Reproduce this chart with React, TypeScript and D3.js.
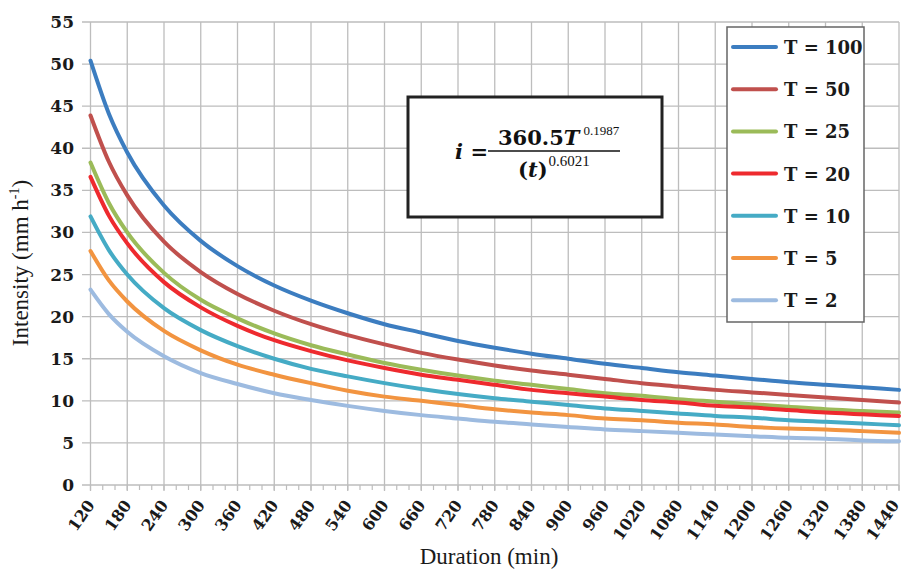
import React from 'react';
import * as d3 from 'd3';

const durations = [120, 150, 180, 240, 300, 360, 420, 480, 540, 600, 660, 720, 780, 840, 900, 960, 1020, 1080, 1140, 1200, 1260, 1320, 1380, 1440];

// intensity (mm/h) per return period
const t100 = [50.4, 44.1, 39.5, 33.2, 29.0, 26.0, 23.7, 21.9, 20.4, 19.1, 18.1, 17.1, 16.3, 15.6, 15.0, 14.4, 13.9, 13.4, 13.0, 12.6, 12.2, 11.9, 11.6, 11.3];
const t50 = [43.9, 38.4, 34.4, 28.9, 25.3, 22.7, 20.7, 19.1, 17.8, 16.7, 15.7, 14.9, 14.2, 13.6, 13.1, 12.6, 12.1, 11.7, 11.3, 11.0, 10.7, 10.4, 10.1, 9.8];
const t25 = [38.3, 33.5, 30.0, 25.2, 22.0, 19.8, 18.0, 16.6, 15.5, 14.5, 13.7, 13.0, 12.4, 11.9, 11.4, 10.9, 10.6, 10.2, 9.9, 9.6, 9.3, 9.0, 8.8, 8.6];
const t20 = [36.6, 32.0, 28.7, 24.1, 21.1, 18.9, 17.2, 15.9, 14.8, 13.9, 13.1, 12.5, 11.9, 11.3, 10.9, 10.5, 10.1, 9.8, 9.4, 9.2, 8.9, 8.6, 8.4, 8.2];
const t10 = [31.9, 27.9, 25.0, 21.0, 18.4, 16.5, 15.0, 13.8, 12.9, 12.1, 11.4, 10.8, 10.3, 9.9, 9.5, 9.1, 8.8, 8.5, 8.2, 8.0, 7.7, 7.5, 7.3, 7.1];
const t5 = [27.8, 24.3, 21.8, 18.3, 16.0, 14.3, 13.1, 12.1, 11.2, 10.5, 10.0, 9.5, 9.0, 8.6, 8.3, 7.9, 7.7, 7.4, 7.2, 6.9, 6.7, 6.6, 6.4, 6.2];
const t2 = [23.2, 20.3, 18.2, 15.3, 13.3, 12.0, 10.9, 10.1, 9.4, 8.8, 8.3, 7.9, 7.5, 7.2, 6.9, 6.6, 6.4, 6.2, 6.0, 5.8, 5.6, 5.5, 5.3, 5.2];

const legendLabels = ['T = 100', 'T = 50', 'T = 25', 'T = 20', 'T = 10', 'T = 5', 'T = 2'];
const seriesValues = [t100, t50, t25, t20, t10, t5, t2];
const seriesColors = ['#3c7dc0', '#c0504d', '#9bbb59', '#ee2a2e', '#45abc5', '#f29440', '#9dbbe0'];

const xTicks = d3.range(120, 1441, 60);
const xMinor = d3.range(120, 1441, 20);
const yTicks = d3.range(0, 56, 5);

const W = 902;
const H = 570;
const boldFont = '"DejaVu Serif", serif';
const plainFont = '"Liberation Serif", "Times New Roman", serif';

export default function App() {
  const x = d3.scaleLinear().domain([120, 1440]).range([90.5, 899]);
  const y = d3.scaleLinear().domain([0, 55]).range([485, 22]);

  const line = d3.line<[number, number]>()
    .x(d => x(d[0]))
    .y(d => y(d[1]))
    .curve(d3.curveMonotoneX);

  const gridColor = '#bdbdbd';

  return (
    <div style={{ position: 'absolute', left: 0, top: 0 }}>
      <svg width={W} height={H} style={{ display: 'block', background: '#fff' }}>
        {/* horizontal grid */}
        {yTicks.map(v => (
          <line key={'h' + v} x1={82} x2={899} y1={y(v)} y2={y(v)} stroke={gridColor} strokeWidth={1.3} />
        ))}
        {/* vertical grid */}
        {xTicks.map(v => (
          <line key={'v' + v} x1={x(v)} x2={x(v)} y1={y(55)} y2={491} stroke={gridColor} strokeWidth={1.3} />
        ))}
        {xMinor.map(v => (
          <line key={'m' + v} x1={x(v)} x2={x(v)} y1={485} y2={490} stroke={gridColor} strokeWidth={1.2} />
        ))}

        {/* y tick labels */}
        {yTicks.map(v => (
          <text key={'yl' + v} x={74} y={y(v) + 6} textAnchor="end" fontFamily={boldFont} fontWeight="bold" fontSize={17} fill="#1a1a1a">
            {v}
          </text>
        ))}

        {/* x tick labels */}
        {xTicks.map(v => (
          <text key={'xl' + v} transform={`translate(${Math.min(x(v) + 5, 900)},${505}) rotate(-55)`} textAnchor="end" fontFamily={boldFont} fontWeight="bold" fontSize={16} fill="#1a1a1a">
            {v}
          </text>
        ))}

        {/* curves */}
        {seriesValues.map((vals, i) => (
          <path key={'s' + i} d={line(durations.map((d, j) => [d, vals[j]] as [number, number])) || ''} fill="none" stroke={seriesColors[i]} strokeWidth={4} strokeLinejoin="round" strokeLinecap="round" />
        ))}

        {/* formula box */}
        <rect x={408} y={97} width={254} height={120} fill="#fff" stroke="#222" strokeWidth={3} />
        <text x={488} y={159} textAnchor="end" fontFamily={boldFont} fontWeight="bold" fontSize={21} fill="#111">
          <tspan fontStyle="italic">i</tspan> =
        </text>
        <text x={498} y={145} fontFamily={boldFont} fontWeight="bold" fontSize={21} fill="#111">
          360.5<tspan fontStyle="italic">T</tspan>
          <tspan fontFamily={plainFont} fontWeight="normal" fontSize={13} dy={-10} dx={4}>0.1987</tspan>
        </text>
        <line x1={488} x2={620} y1={151} y2={151} stroke="#111" strokeWidth={1.5} />
        <text x={518} y={177} fontFamily={boldFont} fontWeight="bold" fontSize={21} fill="#111">
          (<tspan fontStyle="italic">t</tspan>)
          <tspan fontFamily={plainFont} fontWeight="normal" fontSize={15} dy={-11} dx={1}>0.6021</tspan>
        </text>

        {/* legend */}
        <rect x={727} y={27} width={137} height={295} fill="#fff" stroke="#666" strokeWidth={1.5} />
        {legendLabels.map((lab, i) => {
          const ly = 47 + i * 42.2;
          return (
            <g key={'lg' + i}>
              <line x1={733} x2={776} y1={ly} y2={ly} stroke={seriesColors[i]} strokeWidth={4} strokeLinecap="round" />
              <text x={784} y={ly + 7} fontFamily={boldFont} fontWeight="bold" fontSize={18} fill="#1a1a1a">{lab}</text>
            </g>
          );
        })}

        {/* axis titles */}
        <text x={489} y={564} textAnchor="middle" fontFamily={plainFont} fontSize={23} fill="#1a1a1a">Duration (min)</text>
        <text transform="translate(28,263) rotate(-90)" textAnchor="middle" fontFamily={plainFont} fontSize={23} fill="#1a1a1a">
          Intensity (mm h<tspan fontSize={14} dy={-9}>-1</tspan><tspan dy={9}>)</tspan>
        </text>
      </svg>
    </div>
  );
}
